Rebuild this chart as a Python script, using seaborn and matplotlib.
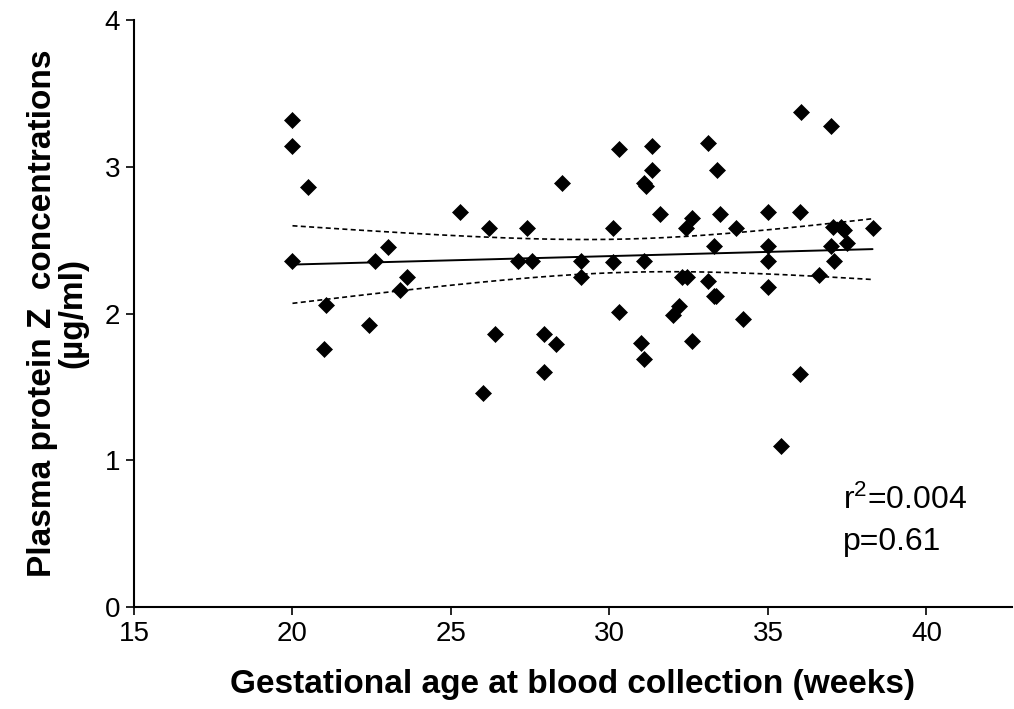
import numpy as np
import pandas as pd
import matplotlib
matplotlib.use("Agg")
import matplotlib.pyplot as plt
import seaborn as sns

# gestational age (weeks) and plasma protein Z (ug/ml)
age_weeks = [
    20.0, 20.0, 20.5, 20.0, 21.05, 21.0, 22.4, 22.6, 23.0, 23.4, 23.6,
    25.3, 26.2, 26.4, 26.0, 27.1, 27.4, 27.55, 28.5, 27.95, 28.3, 27.95,
    29.1, 29.1, 30.3, 30.1, 30.1, 30.3, 31.35, 31.35, 31.1, 31.15, 31.1,
    31.0, 31.1, 31.6, 32.4, 32.6, 32.3, 32.45, 32.0, 32.2, 32.6, 33.1,
    33.4, 33.5, 33.3, 33.1, 33.3, 33.35, 34.0, 34.2, 36.05, 37.0, 35.0,
    36.0, 35.0, 35.0, 35.0, 36.0, 35.4, 37.0, 37.1, 36.6, 37.05, 37.3,
    37.4, 37.5, 38.3,
]
protein_z = [
    3.32, 3.14, 2.86, 2.36, 2.06, 1.76, 1.92, 2.36, 2.45, 2.16, 2.25,
    2.69, 2.58, 1.86, 1.46, 2.36, 2.58, 2.36, 2.89, 1.86, 1.79, 1.60,
    2.36, 2.25, 3.12, 2.58, 2.35, 2.01, 3.14, 2.98, 2.89, 2.87, 2.36,
    1.80, 1.69, 2.68, 2.58, 2.65, 2.25, 2.25, 1.99, 2.05, 1.81, 3.16,
    2.98, 2.68, 2.46, 2.22, 2.12, 2.12, 2.58, 1.96, 3.37, 3.28, 2.69,
    2.69, 2.46, 2.36, 2.18, 1.59, 1.10, 2.46, 2.36, 2.26, 2.59, 2.59,
    2.57, 2.48, 2.58,
]
x_ticks = [15, 20, 25, 30, 35, 40]
y_ticks = [0, 1, 2, 3, 4]
stats_text = ["r$^{2}$=0.004", "p=0.61"]

T_CRIT = 1.996  # t(0.975, df=67)

df = pd.DataFrame({"age": age_weeks, "pz": protein_z})

# ordinary least squares fit with 95% confidence band for the mean
x = df["age"].to_numpy()
y = df["pz"].to_numpy()
n = len(x)
slope, intercept = np.polyfit(x, y, 1)
resid = y - (intercept + slope * x)
s_err = np.sqrt(np.sum(resid ** 2) / (n - 2))
sxx = np.sum((x - x.mean()) ** 2)
xs = np.linspace(x.min(), x.max(), 200)
fit = intercept + slope * xs
half = T_CRIT * s_err * np.sqrt(1.0 / n + (xs - x.mean()) ** 2 / sxx)

sns.set_style("ticks")
plt.rcParams["font.family"] = ["Liberation Sans", "DejaVu Sans"]
plt.rcParams["mathtext.fontset"] = "custom"
plt.rcParams["mathtext.rm"] = "Liberation Sans"
plt.rcParams["mathtext.default"] = "regular"
plt.rcParams["text.color"] = "black"
plt.rcParams["axes.labelcolor"] = "black"

fig = plt.figure(figsize=(10.14, 7.09), dpi=100)
ax = fig.add_axes([134 / 1014, 102 / 709, 878 / 1014, 587 / 709])

sns.scatterplot(data=df, x="age", y="pz", marker="D", s=66, color="black",
                edgecolor="black", linewidth=0.5, ax=ax, zorder=3)

ax.plot(xs, fit, color="black", linewidth=1.4, zorder=2)
ax.plot(xs, fit + half, color="black", linewidth=1.2, linestyle=(0, (3, 2)), zorder=2)
ax.plot(xs, fit - half, color="black", linewidth=1.2, linestyle=(0, (3, 2)), zorder=2)

ax.set_xlim(15, 42.7)
ax.set_ylim(0, 4)
ax.set_xticks(x_ticks)
ax.set_yticks(y_ticks)
ax.tick_params(axis="both", labelsize=20, length=6, width=1.2, color="black",
               labelcolor="black", direction="out", pad=4)

for side in ["left", "bottom"]:
    ax.spines[side].set_linewidth(1.5)
    ax.spines[side].set_color("black")
sns.despine(ax=ax)

ax.set_xlabel("Gestational age at blood collection (weeks)", fontsize=24,
              fontweight="bold", labelpad=16)
ax.set_ylabel("Plasma protein Z  concentrations\n(µg/ml)", fontsize=24,
              fontweight="bold", labelpad=12, linespacing=0.95)

ax.text(0.807, 0.167, stats_text[0], transform=ax.transAxes, fontsize=23,
        va="baseline", ha="left")
ax.text(0.807, 0.097, stats_text[1], transform=ax.transAxes, fontsize=23,
        va="baseline", ha="left")

fig.savefig("out.png", dpi=100)
